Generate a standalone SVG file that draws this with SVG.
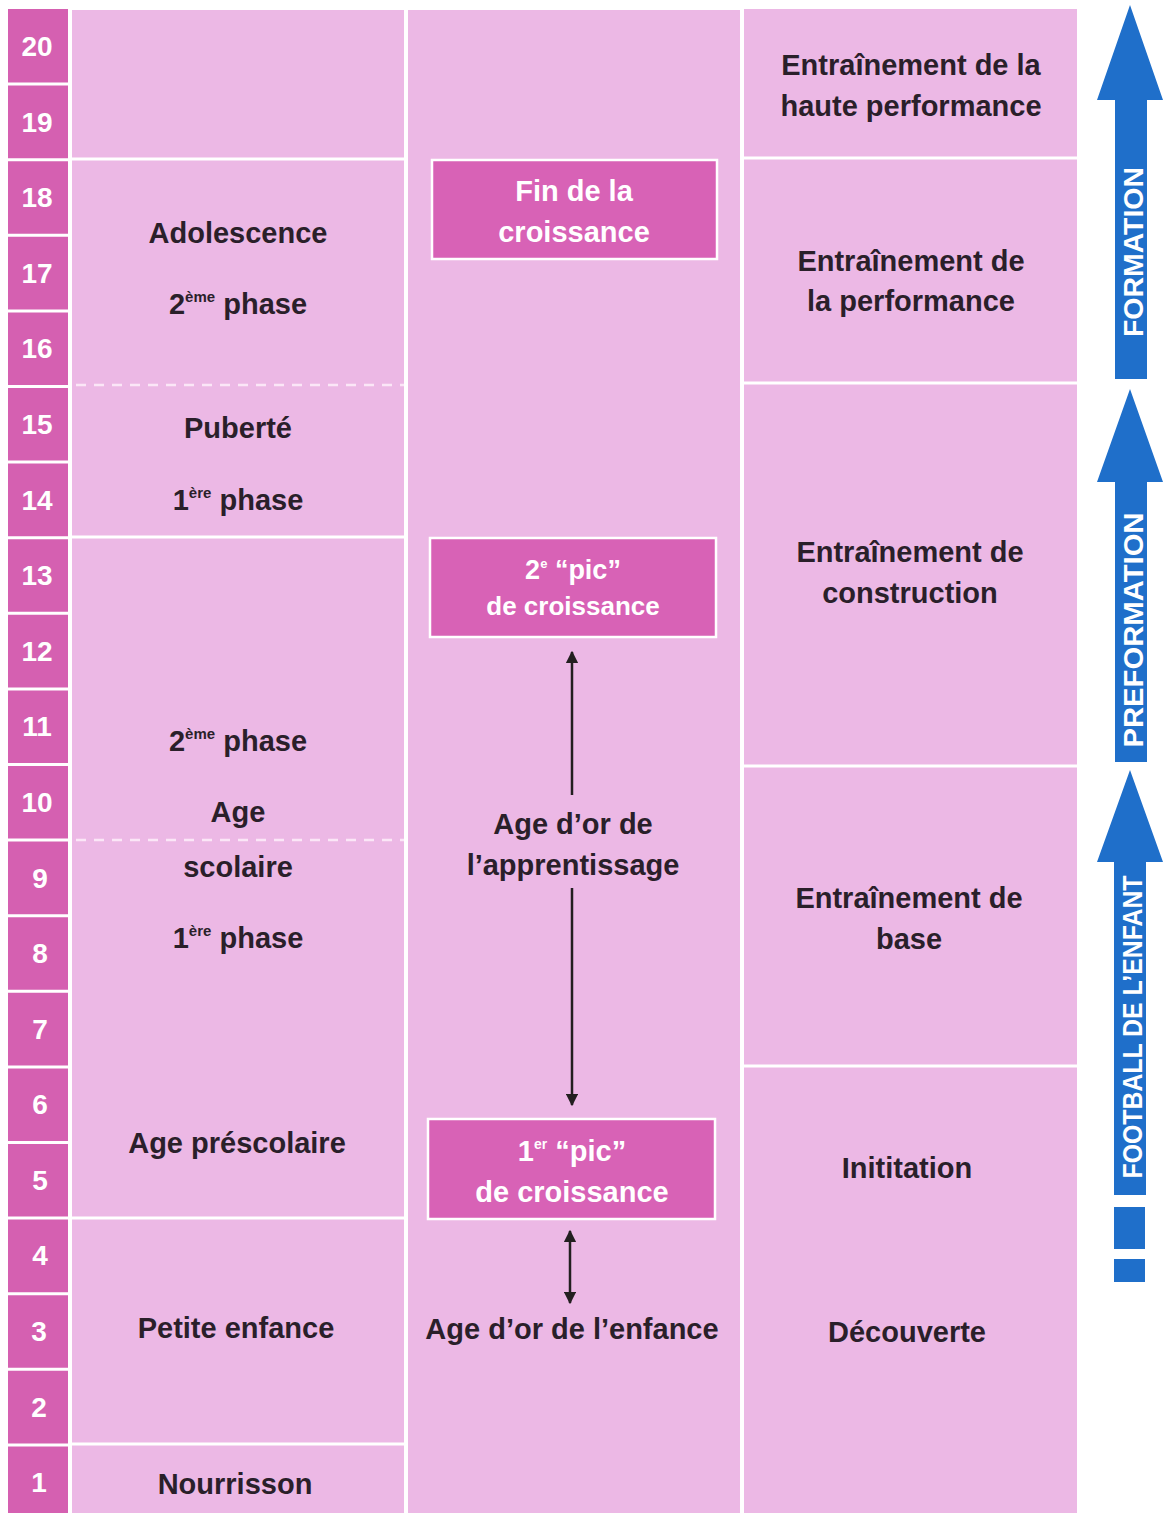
<svg xmlns="http://www.w3.org/2000/svg" width="1165" height="1513" viewBox="0 0 1165 1513">
  <style>
    .col { fill: #ecb8e5; }
    .num { fill: #d560b1; }
    .sep { stroke: #ffffff; stroke-width: 3; fill: none; }
    .dash { stroke: #fbe6f7; stroke-width: 2.5; stroke-dasharray: 10 8; fill: none; }
    .lbl { font-family: "Liberation Sans", Arial, sans-serif; font-weight: 700; font-size: 29px; fill: #2a1f2a; text-anchor: middle; }
    .nlbl { font-family: "Liberation Sans", Arial, sans-serif; font-weight: 700; font-size: 28px; fill: #ffffff; text-anchor: middle; }
    .box { fill: #d862b6; stroke: #ffffff; stroke-width: 2.5; }
    .boxt { font-family: "Liberation Sans", Arial, sans-serif; font-weight: 700; font-size: 29px; fill: #ffffff; text-anchor: middle; }
    .sup { font-size: 15px; }
    .conn { stroke: #231f20; stroke-width: 2.5; fill: none; }
    .band { fill: #1f6fca; }
    .bandt { font-family: "Liberation Sans", Arial, sans-serif; font-weight: 700; font-size: 27px; fill: #ffffff; text-anchor: middle; }
  </style>
  <defs>
    <marker id="tip" viewBox="0 0 10 10" refX="9" refY="5" markerWidth="5" markerHeight="5" orient="auto-start-reverse" markerUnits="strokeWidth">
      <path d="M0,0 L10,5 L0,10 Z" fill="#231f20"/>
    </marker>
  </defs>

  <rect x="0" y="0" width="1165" height="1513" fill="#ffffff"/>

  <!-- age scale -->
  <g id="age-scale">
    <rect class="num" x="8" y="9" width="60" height="1504"/>
    <path class="sep" d="M8,84.1H68 M8,159.7H68 M8,235.3H68 M8,310.9H68 M8,386.5H68 M8,462.1H68 M8,537.7H68 M8,613.3H68 M8,688.9H68 M8,764.5H68 M8,840.1H68 M8,915.7H68 M8,991.3H68 M8,1066.9H68 M8,1142.5H68 M8,1218.1H68 M8,1293.7H68 M8,1369.3H68 M8,1444.9H68"/>
    <text class="nlbl" x="37" y="56">20</text>
    <text class="nlbl" x="37" y="132">19</text>
    <text class="nlbl" x="37" y="207">18</text>
    <text class="nlbl" x="37" y="283">17</text>
    <text class="nlbl" x="37" y="358">16</text>
    <text class="nlbl" x="37" y="434">15</text>
    <text class="nlbl" x="37" y="510">14</text>
    <text class="nlbl" x="37" y="585">13</text>
    <text class="nlbl" x="37" y="661">12</text>
    <text class="nlbl" x="37" y="736">11</text>
    <text class="nlbl" x="37" y="812">10</text>
    <text class="nlbl" x="40" y="888">9</text>
    <text class="nlbl" x="40" y="963">8</text>
    <text class="nlbl" x="40" y="1039">7</text>
    <text class="nlbl" x="40" y="1114">6</text>
    <text class="nlbl" x="40" y="1190">5</text>
    <text class="nlbl" x="40" y="1265">4</text>
    <text class="nlbl" x="39" y="1341">3</text>
    <text class="nlbl" x="39" y="1417">2</text>
    <text class="nlbl" x="39" y="1492">1</text>
  </g>

  <!-- development stages -->
  <g id="stages">
    <rect class="col" x="72" y="10" width="332" height="1503"/>
    <path class="sep" d="M72,159H404 M72,537H404 M72,1218H404 M72,1444H404"/>
    <path class="dash" d="M76,385H404 M76,840H404"/>
    <text class="lbl" x="238" y="243">Adolescence</text>
    <text class="lbl" x="238" y="314">2<tspan class="sup" dy="-12">ème</tspan><tspan dy="12"> phase</tspan></text>
    <text class="lbl" x="238" y="438">Puberté</text>
    <text class="lbl" x="238" y="510">1<tspan class="sup" dy="-12">ère</tspan><tspan dy="12"> phase</tspan></text>
    <text class="lbl" x="238" y="751">2<tspan class="sup" dy="-12">ème</tspan><tspan dy="12"> phase</tspan></text>
    <text class="lbl" x="238" y="822">Age</text>
    <text class="lbl" x="238" y="877">scolaire</text>
    <text class="lbl" x="238" y="948">1<tspan class="sup" dy="-12">ère</tspan><tspan dy="12"> phase</tspan></text>
    <text class="lbl" x="237" y="1153">Age préscolaire</text>
    <text class="lbl" x="236" y="1338">Petite enfance</text>
    <text class="lbl" x="235" y="1494">Nourrisson</text>
  </g>

  <!-- growth column -->
  <g id="growth">
    <rect class="col" x="408" y="10" width="332" height="1503"/>
    <text class="lbl" x="573" y="834">Age d’or de</text>
    <text class="lbl" x="573" y="875">l’apprentissage</text>
    <text class="lbl" x="572" y="1339">Age d’or de l’enfance</text>
  </g>
  <g id="fin-croissance">
    <rect class="box" x="432" y="160" width="285" height="99"/>
    <text class="boxt" x="574" y="201">Fin de la</text>
    <text class="boxt" x="574" y="242">croissance</text>
  </g>
  <g id="pic-2">
    <rect class="box" x="430" y="538" width="286" height="99"/>
    <text class="boxt" x="573" y="579" style="font-size:27px">2<tspan class="sup" dy="-11" style="font-size:13px">e</tspan><tspan dy="11"> “pic”</tspan></text>
    <text class="boxt" x="573" y="615" style="font-size:26px">de croissance</text>
  </g>
  <g id="pic-1">
    <rect class="box" x="428" y="1119" width="287" height="100"/>
    <text class="boxt" x="572" y="1161">1<tspan class="sup" dy="-12" style="font-size:14px">er</tspan><tspan dy="12"> “pic”</tspan></text>
    <text class="boxt" x="572" y="1202">de croissance</text>
  </g>

  <!-- training column -->
  <g id="training">
    <rect class="col" x="744" y="9" width="333" height="1504"/>
    <path class="sep" d="M744,158H1077 M744,383H1077 M744,766H1077 M744,1066H1077"/>
    <text class="lbl" x="911" y="75">Entraînement de la</text>
    <text class="lbl" x="911" y="116">haute performance</text>
    <text class="lbl" x="911" y="271">Entraînement de</text>
    <text class="lbl" x="911" y="311">la performance</text>
    <text class="lbl" x="910" y="562">Entraînement de</text>
    <text class="lbl" x="910" y="603">construction</text>
    <text class="lbl" x="909" y="908">Entraînement de</text>
    <text class="lbl" x="909" y="949">base</text>
    <text class="lbl" x="907" y="1178">Inititation</text>
    <text class="lbl" x="907" y="1342">Découverte</text>
  </g>

  <!-- phase arrows -->
  <g id="formation">
    <path class="band" d="M1130,5 L1163,100 L1147,100 L1147,379 L1115,379 L1115,100 L1097,100 Z"/>
    <text class="bandt" transform="translate(1143,252) rotate(-90)" textLength="170" lengthAdjust="spacingAndGlyphs">FORMATION</text>
  </g>
  <g id="preformation">
    <path class="band" d="M1130,389 L1163,482 L1147,482 L1147,762 L1115,762 L1115,482 L1097,482 Z"/>
    <text class="bandt" transform="translate(1143,630) rotate(-90)" textLength="235" lengthAdjust="spacingAndGlyphs">PREFORMATION</text>
  </g>
  <g id="football-enfant">
    <path class="band" d="M1130,770 L1163,862 L1146,862 L1146,1195 L1114,1195 L1114,862 L1097,862 Z"/>
    <rect class="band" x="1114" y="1207" width="31" height="42"/>
    <rect class="band" x="1114" y="1259" width="31" height="23"/>
    <text class="bandt" transform="translate(1142,1027) rotate(-90)" textLength="303" lengthAdjust="spacingAndGlyphs">FOOTBALL DE L’ENFANT</text>
  </g>

  <!-- connectors -->
  <g id="connectors">
    <line class="conn" x1="572" y1="795" x2="572" y2="652" marker-end="url(#tip)"/>
    <line class="conn" x1="572" y1="888" x2="572" y2="1105" marker-end="url(#tip)"/>
    <line class="conn" x1="570" y1="1231" x2="570" y2="1303" marker-start="url(#tip)" marker-end="url(#tip)"/>
  </g>
</svg>
